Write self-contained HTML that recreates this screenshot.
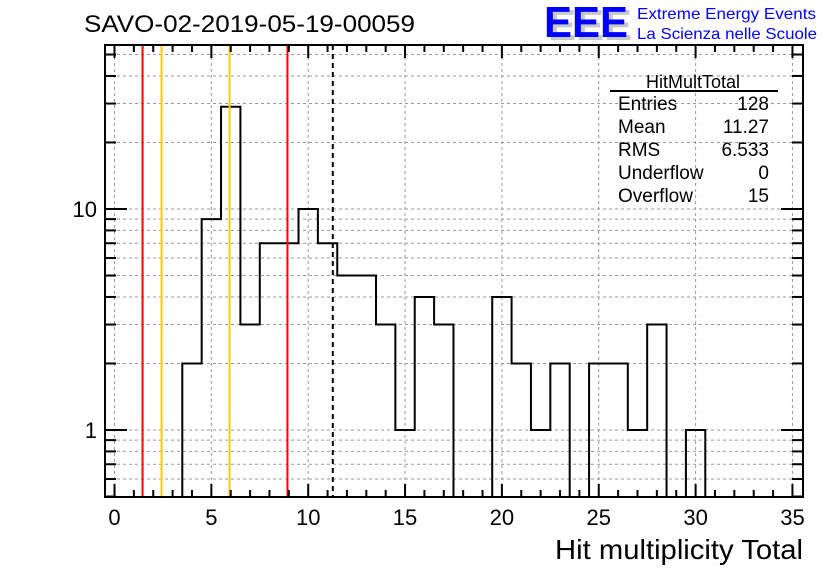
<!DOCTYPE html>
<html><head><meta charset="utf-8"><style>
body{margin:0;background:#fff;width:836px;height:572px;overflow:hidden}
svg text{font-family:"Liberation Sans",sans-serif}
</style></head><body>
<svg id="c" width="836" height="572" xmlns="http://www.w3.org/2000/svg">
<text x="84" y="32" font-size="24" textLength="331" lengthAdjust="spacingAndGlyphs">SAVO-02-2019-05-19-00059</text>
<g>
<text x="548" y="40" font-size="44" font-weight="bold" fill="#c8c8c8" textLength="84" lengthAdjust="spacingAndGlyphs">EEE</text>
<text x="544" y="37" font-size="44" font-weight="bold" fill="#0000ff" textLength="84" lengthAdjust="spacingAndGlyphs">EEE</text>
<text x="637" y="19" font-size="16" fill="#0000ff" textLength="179" lengthAdjust="spacingAndGlyphs">Extreme Energy Events</text>
<text x="637" y="39" font-size="16" fill="#0000ff" textLength="180" lengthAdjust="spacingAndGlyphs">La Scienza nelle Scuole</text>
</g>
<g id="grid"></g><g id="marks"></g><g id="axes"></g>
<g font-size="19">
<text x="693" y="88" text-anchor="middle" font-size="18">HitMultTotal</text>
<line x1="610" y1="91" x2="778" y2="91" stroke="#000" stroke-width="2"/>
<text x="618" y="110">Entries</text><text x="769" y="110" text-anchor="end">128</text>
<text x="618" y="133">Mean</text><text x="769" y="133" text-anchor="end">11.27</text>
<text x="618" y="156">RMS</text><text x="769" y="156" text-anchor="end">6.533</text>
<text x="618" y="179">Underflow</text><text x="769" y="179" text-anchor="end">0</text>
<text x="618" y="202">Overflow</text><text x="769" y="202" text-anchor="end">15</text>
</g>
<text x="555" y="559" font-size="28" textLength="248" lengthAdjust="spacingAndGlyphs">Hit multiplicity Total</text>
</svg>
<script>
const binCenters=[4,5,6,7,8,9,10,11,12,13,14,15,16,17,18,19,20,21,22,23,24,25,26,27,28,29,30];
const counts=[2,9,29,3,7,7,10,7,5,5,3,1,4,3,0,0,4,2,1,2,0,2,2,1,3,0,1];
const xTicks=[0,5,10,15,20,25,30,35];
const yTicks=[1,10];
const redLines=[1.45,8.93];
const orangeLines=[2.43,5.94];
const meanLine=[11.27];
const L=105,R=803,T=45,B=497;
const X=v=>114.5+v*19.37;
const Y=v=>430-Math.log10(v)*221;
const ymin=0.5,ymax=Math.pow(10,(430-T)/221);
const NS="http://www.w3.org/2000/svg";
function mk(p,t,a){const e=document.createElementNS(NS,t);for(const k in a)e.setAttribute(k,a[k]);document.getElementById(p).appendChild(e);return e;}
for(let v=0;v<=35;v+=5){if(X(v)>L&&X(v)<R){const g=mk('grid','line',{x1:X(v),x2:X(v),y1:T,y2:B,stroke:'#999','stroke-dasharray':'3,3'});

}}
for(let d=0.1;d<100;d*=10)for(let m=1;m<10;m++){const v=d*m;if(v<ymin||v>ymax)continue;const g=mk('grid','line',{x1:L,x2:R,y1:Y(v),y2:Y(v),stroke:'#999','stroke-dasharray':'3,3'});

}
let d='';
binCenters.forEach((c,i)=>{const v=counts[i];const y=v>0?Math.max(Y(v),T):B;const x0=X(c-0.5),x1=X(c+0.5);d+=(i===0?`M${x0},${B}`:'')+`L${x0},${y}L${x1},${y}`;});
d+=`L${X(binCenters[binCenters.length-1]+0.5)},${B}`;
const h=mk('marks','path',{d:d,fill:'none',stroke:'#000','stroke-width':2});


redLines.forEach(v=>{const l=mk('marks','line',{x1:X(v),x2:X(v),y1:T,y2:B,stroke:'#ff0000','stroke-width':2});

});
orangeLines.forEach(v=>{const l=mk('marks','line',{x1:X(v),x2:X(v),y1:T,y2:B,stroke:'#ffcc00','stroke-width':2});

});
meanLine.forEach(v=>{const l=mk('marks','line',{x1:X(v),x2:X(v),y1:T,y2:B,stroke:'#000','stroke-width':2,'stroke-dasharray':'5,4'});

});
const f=mk('axes','rect',{x:L,y:T,width:R-L,height:B-T,fill:'none',stroke:'#000','stroke-width':2});


for(let v=0;v<=35;v++){const len=v%5===0?13:7;
mk('axes','line',{x1:X(v),x2:X(v),y1:B,y2:B-len,stroke:'#000','stroke-width':2});
mk('axes','line',{x1:X(v),x2:X(v),y1:T,y2:T+len,stroke:'#000','stroke-width':2});}
xTicks.forEach(v=>{const t=mk('axes','text',{x:X(v),y:525,'font-size':22,'text-anchor':'middle'});t.textContent=v;

});
for(let dd=0.1;dd<100;dd*=10)for(let m=1;m<10;m++){const v=dd*m;if(v<ymin||v>ymax)continue;const len=m===1?22:11;
mk('axes','line',{x1:L,x2:L+len,y1:Y(v),y2:Y(v),stroke:'#000','stroke-width':2});
mk('axes','line',{x1:R,x2:R-len,y1:Y(v),y2:Y(v),stroke:'#000','stroke-width':2});}
yTicks.forEach(v=>{const t=mk('axes','text',{x:97,y:Y(v)+8,'font-size':22,'text-anchor':'end'});t.textContent=v;

});
</script>
</body></html>
